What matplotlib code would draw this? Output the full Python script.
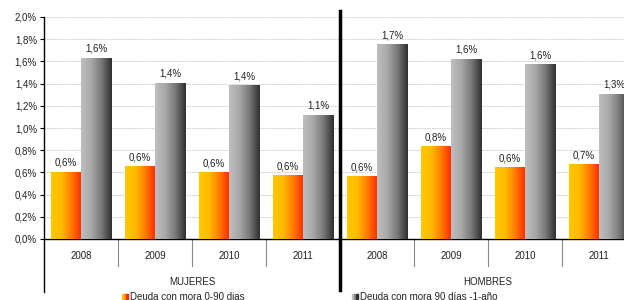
import numpy as np
import matplotlib
matplotlib.use('Agg')
from matplotlib import pyplot as plt
from matplotlib.colors import LinearSegmentedColormap
from matplotlib.patches import Rectangle

plt.rcParams['font.family'] = ['Liberation Sans', 'DejaVu Sans']

groups = ['MUJERES', 'HOMBRES']
years = ['2008', '2009', '2010', '2011']
mora_0_90 = [0.60, 0.65, 0.595, 0.57, 0.56, 0.83, 0.64, 0.67]
mora_90_1 = [1.63, 1.405, 1.38, 1.115, 1.75, 1.62, 1.57, 1.305]
labels_0_90 = ['0,6%', '0,6%', '0,6%', '0,6%', '0,6%', '0,8%', '0,6%', '0,7%']
labels_90_1 = ['1,6%', '1,4%', '1,4%', '1,1%', '1,7%', '1,6%', '1,6%', '1,3%']
legend_names = ['Deuda con mora 0-90 dias', 'Deuda con mora 90 días -1-año']

orange = LinearSegmentedColormap.from_list('orange', ['#FFC800', '#FFBA00', '#FF7A00', '#FF2800'])
grey = LinearSegmentedColormap.from_list('grey', ['#BEBEBE', '#A8A8A8', '#787878', '#303030'])
grad = np.linspace(0, 1, 64).reshape(1, -1)

fig = plt.figure(figsize=(6.24, 3.0), dpi=100)
# axes run past the right edge, like the original which is cut off
ax = fig.add_axes([44/624, 61/300, 592/624, 222/300])

n = len(mora_0_90)
x = np.arange(n)
w = 0.41

def grad_bar(xc, h, cmap):
    ax.imshow(grad, extent=[xc - w/2, xc + w/2, 0, h], aspect='auto', cmap=cmap, zorder=3)

for i in range(n):
    grad_bar(x[i] - w/2, mora_0_90[i], orange)
    grad_bar(x[i] + w/2, mora_90_1[i], grey)
    ax.text(x[i] - w/2, mora_0_90[i] + 0.04, labels_0_90[i], ha='center', va='bottom', fontsize=7, color='#222222')
    ax.text(x[i] + w/2, mora_90_1[i] + 0.04, labels_90_1[i], ha='center', va='bottom', fontsize=7, color='#222222')

ax.set_xlim(-0.5, n - 0.5)
ax.set_ylim(0, 2.0)
yt = np.arange(0, 2.01, 0.2)
ax.set_yticks(yt)
ax.set_yticklabels([('%.1f%%' % v).replace('.', ',') for v in yt], fontsize=7, color='#222222')
ax.tick_params(axis='y', length=3, width=0.8, pad=2)
ax.set_xticks([])
for v in yt[1:]:
    ax.axhline(v, color='#C8C8C8', lw=0.6, ls=(0, (2, 1)), zorder=1)

for s in ['top', 'right', 'left']:
    ax.spines[s].set_visible(False)
ax.spines['bottom'].set_linewidth(1.0)

tr = ax.get_xaxis_transform()
ax.plot([-0.5, -0.5], [-0.24, 1.0], transform=tr, color='black', lw=1.0, clip_on=False)
for i in range(n):
    if i != 3 and i != n - 1:
        ax.plot([i + 0.5, i + 0.5], [0, -0.12], transform=tr, color='#888888', lw=0.8, clip_on=False)
    ax.text(x[i], -0.077, years[i % 4], transform=tr, ha='center', va='center', fontsize=7, color='#222222')
ax.plot([3.5, 3.5], [-0.23, 1.027], transform=tr, color='black', lw=2.5, clip_on=False)
for g, name in enumerate(groups):
    ax.text(g * 4 + 1.5, -0.194, name, transform=tr, ha='center', va='center', fontsize=7, color='#222222')

# legend along the bottom edge
for k, (px, cm) in enumerate([(122, orange), (352, grey)]):
    for j in range(3):
        fig.patches.append(Rectangle(((px + j*2)/624, 1/300), 2/624, 5/300, transform=fig.transFigure,
                                     color=cm(j / 2), zorder=5))
    fig.text((px + 8)/624, 3.5/300, legend_names[k], ha='left', va='center', fontsize=7, color='#222222')

fig.savefig('out.png', dpi=100)
